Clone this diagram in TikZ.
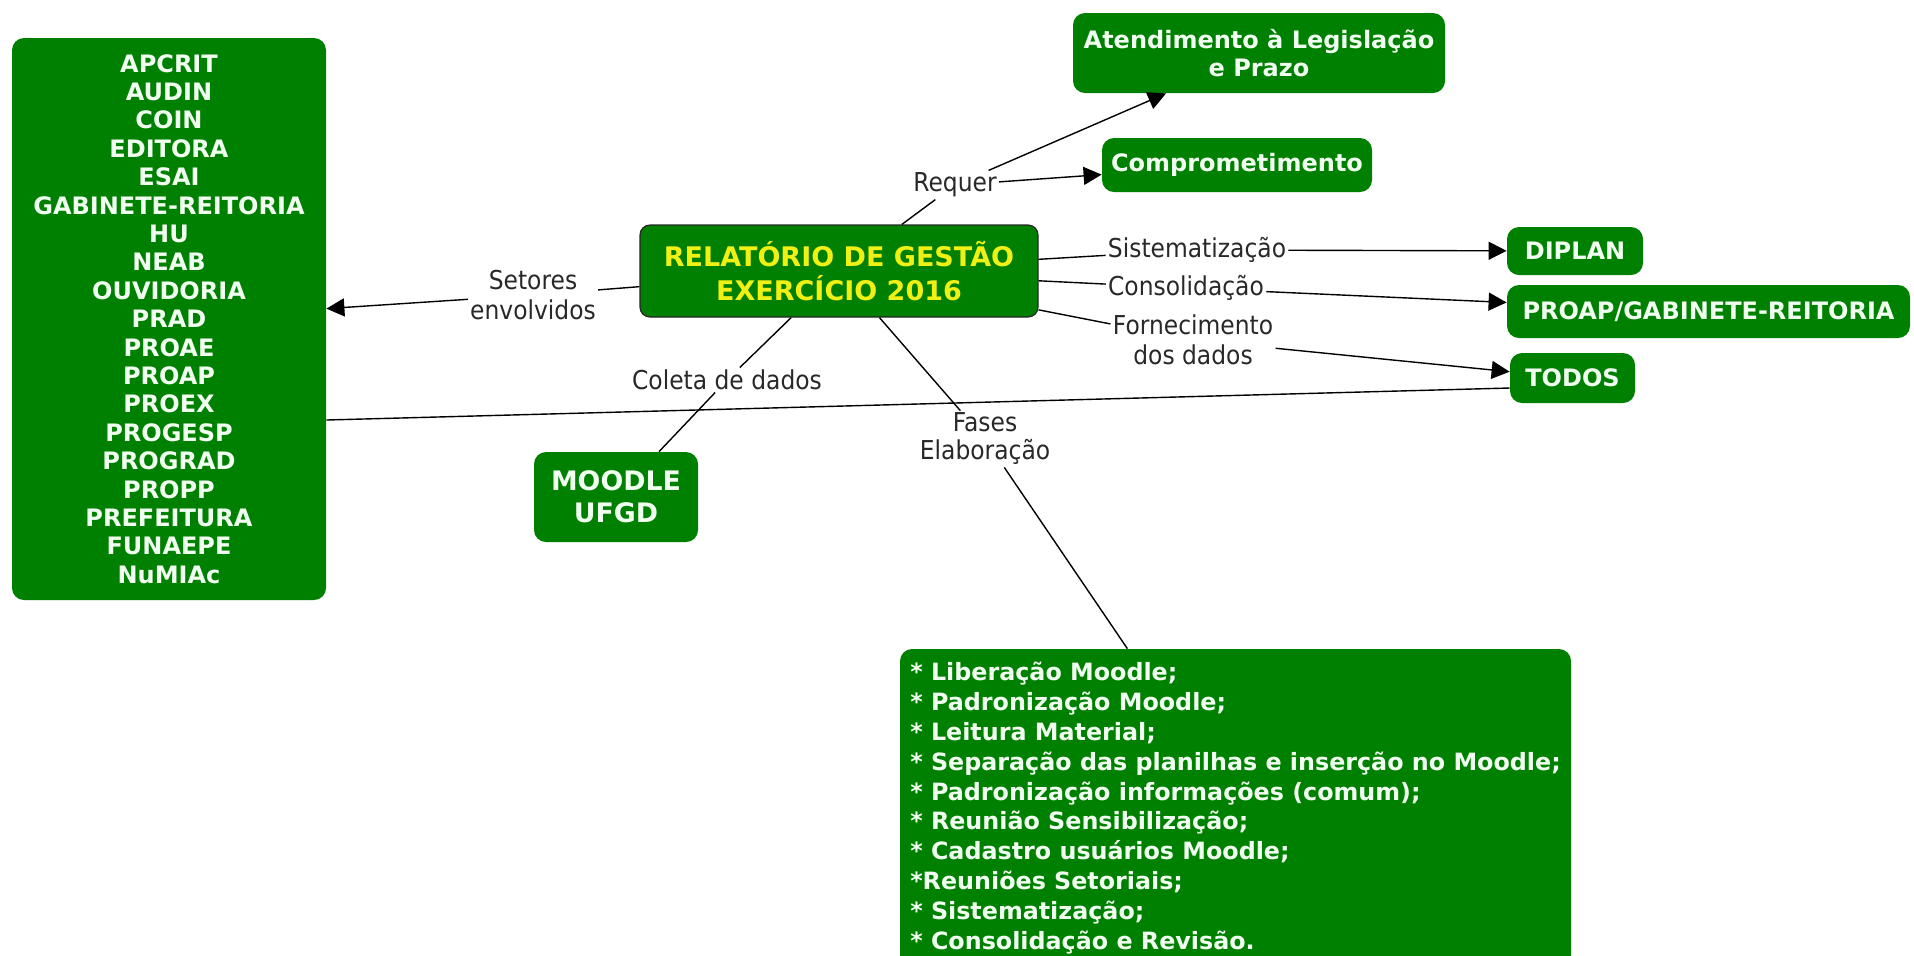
\documentclass[tikz,border=0pt]{standalone}
\usepackage{fontspec}
\setmainfont{DejaVu Sans}
\newfontfamily\lblfamily{DejaVu Sans}[FakeStretch=0.9]
\usetikzlibrary{arrows.meta}
\definecolor{cmgreen}{RGB}{0,128,0}
\definecolor{cmyellow}{RGB}{240,240,20}
\definecolor{cmwhite}{RGB}{240,255,240}
\definecolor{lblgray}{RGB}{40,40,40}
\begin{document}
\begin{tikzpicture}[x=0.5pt,y=-0.5pt,
  gbox/.style={fill=cmgreen, text=cmwhite, rounded corners=6pt, inner sep=0pt, align=center,
    font=\bfseries\fontsize{12}{14.2}\selectfont},
  lbl/.style={text=lblgray, inner sep=1pt, align=center, font=\lblfamily\fontsize{13}{15}\selectfont},
  conn/.style={draw=black, line width=0.7pt},
  arr/.style={conn, -{Triangle[length=9pt,width=9pt]}}]
\useasboundingbox (0,0) rectangle (1914,955);

% concept boxes
\node[gbox, minimum width=157pt, minimum height=281pt] (sectors) at (169,319)
 {APCRIT\\AUDIN\\COIN\\EDITORA\\ESAI\\GABINETE-REITORIA\\HU\\NEAB\\OUVIDORIA\\PRAD\\PROAE\\PROAP\\PROEX\\PROGESP\\PROGRAD\\PROPP\\PREFEITURA\\FUNAEPE\\NuMIAc};
\node[gbox, draw=black!85, line width=0.6pt, rounded corners=5pt, text=cmyellow,
  minimum width=199pt, minimum height=46pt, font=\bfseries\fontsize{13.5}{17}\selectfont] (main) at (839,271)
 {RELATÓRIO DE GESTÃO\\EXERCÍCIO 2016};
\node[gbox, minimum width=186pt, minimum height=40pt, font=\bfseries\fontsize{12}{13.8}\selectfont] (atend) at (1259,53)
 {Atendimento à Legislação\\e Prazo};
\node[gbox, minimum width=135pt, minimum height=27pt] (compr) at (1237,165) {Comprometimento};
\node[gbox, minimum width=68pt, minimum height=24pt] (diplan) at (1575,251) {DIPLAN};
\node[gbox, minimum width=201.5pt, minimum height=26.5pt] (proap) at (1708.5,311.5) {PROAP/GABINETE-REITORIA};
\node[gbox, minimum width=62.5pt, minimum height=25pt] (todos) at (1572.5,378) {TODOS};
\node[gbox, minimum width=82pt, minimum height=45pt, font=\bfseries\fontsize{13.4}{16}\selectfont] (moodle) at (616,497)
 {MOODLE\\UFGD};
\node[gbox, align=left, minimum width=335.5pt, minimum height=159pt, font=\bfseries\fontsize{11.9}{14.9}\selectfont] (fases) at (1235.5,808)
 {* Liberação Moodle;\\
  * Padronização Moodle;\\
  * Leitura Material;\\
  * Separação das planilhas e inserção no Moodle;\\
  * Padronização informações (comum);\\
  * Reunião Sensibilização;\\
  * Cadastro usuários Moodle;\\
  *Reuniões Setoriais;\\
  * Sistematização;\\
  * Consolidação e Revisão.};

% linking phrases
\node[lbl] (requer) at (955,185) {Requer};
\node[lbl] (setores) at (533,295) {Setores\\envolvidos};
\node[lbl] (sist) at (1197,250) {Sistematização};
\node[lbl] (consol) at (1186,288) {Consolidação};
\node[lbl] (forn) at (1193,340) {Fornecimento\\dos dados};
\node[lbl] (coleta) at (727,380) {Coleta de dados};
\node[lbl, font=\lblfamily\fontsize{13}{14}\selectfont] (fasesl) at (985,439) {Fases\\Elaboração};

% connectors
\draw[conn] (main) -- (requer);
\draw[arr] (requer) -- (atend);
\draw[arr] (requer) -- (compr);
\draw[conn] (main) -- (setores);
\draw[arr] (setores) -- (sectors);
\draw[conn] (main) -- (sist);
\draw[arr] (sist) -- (diplan);
\draw[conn] (main) -- (consol);
\draw[arr] (consol) -- (proap);
\draw[conn] (main) -- (forn);
\draw[arr] (forn) -- (todos);
\draw[conn] ([yshift=-5pt]todos.west) -- ([yshift=-50.5pt]sectors.east);
\draw[conn] (main) -- (coleta);
\draw[conn] (coleta) -- (moodle);
\draw[conn] (main) -- (fasesl);
\draw[conn] (fasesl) -- (fases);
\end{tikzpicture}
\end{document}
